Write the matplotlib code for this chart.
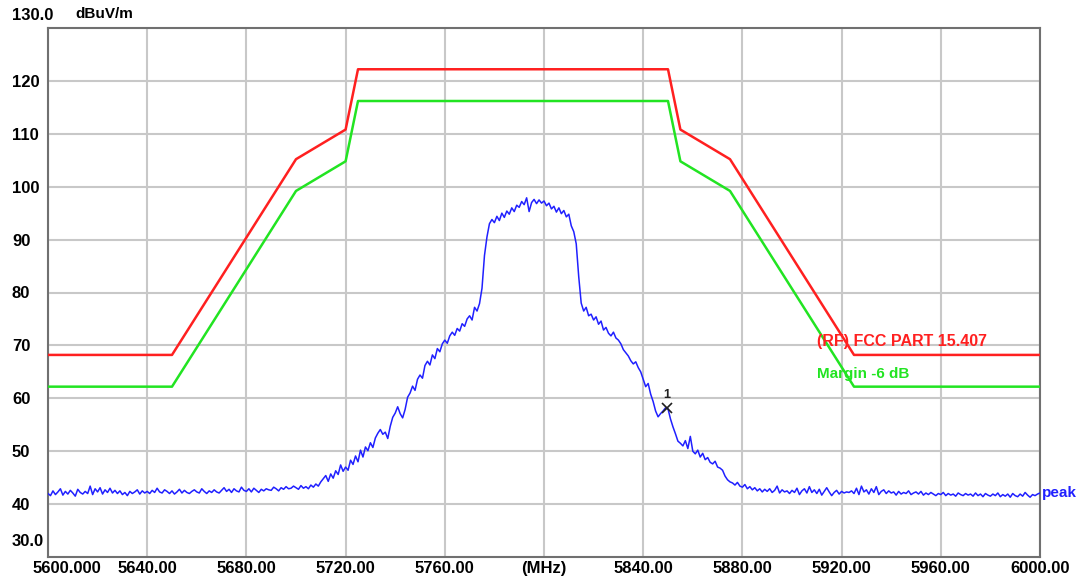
import numpy as np
import matplotlib
matplotlib.use("Agg")
import matplotlib.pyplot as plt
import matplotlib.transforms as mtransforms

plt.rcParams['font.family'] = ['Liberation Sans', 'DejaVu Sans']

# FCC part 15.407 limit (red) and the -6 dB margin (green)
limit_freq = [5600, 5650, 5700, 5720, 5725, 5850, 5855, 5875, 5925, 6000]
limit_level = [68.2, 68.2, 105.2, 110.8, 122.2, 122.2, 110.8, 105.2, 68.2, 68.2]
margin_level = [62.2, 62.2, 99.2, 104.8, 116.2, 116.2, 104.8, 99.2, 62.2, 62.2]

# peak trace, 1 MHz steps from 5600 to 6000 MHz
trace_start = 5600
trace_level = [
    42.0, 41.6, 42.5, 41.8, 42.3, 42.9, 41.7, 42.4, 41.9, 42.6,
    42.1, 41.5, 42.8, 42.2, 41.9, 42.4, 42.0, 43.4, 41.8, 42.9,
    42.3, 43.1, 41.9, 42.7, 42.2, 43.0, 42.1, 42.6, 42.0, 42.5,
    41.8, 42.2, 41.6, 42.4, 42.0, 42.3, 42.7, 41.9, 42.5, 42.1,
    42.4, 42.0, 42.6, 42.2, 43.0, 42.3, 42.1, 42.7, 42.4, 42.0,
    42.5, 41.9, 42.3, 42.8, 42.1, 42.6, 42.2, 42.0, 42.4, 42.7,
    42.3, 42.1, 42.9, 42.4, 42.0, 42.5, 42.2, 42.7, 42.3, 42.1,
    42.6, 43.1, 42.4, 42.8, 42.2, 42.9, 42.5, 42.3, 43.2, 42.6,
    42.4, 42.9, 42.3, 43.0, 42.6, 42.2, 42.8, 42.5, 42.9, 42.7,
    42.6, 43.2, 42.9, 42.5, 43.1, 42.8, 43.3, 42.9, 43.0, 43.4,
    43.1, 42.8, 43.5, 43.0, 43.3, 42.9, 43.6, 43.2, 43.8, 43.4,
    44.2, 44.8, 45.4, 44.3, 45.7, 44.9, 46.3, 45.6, 47.4, 46.2,
    47.0, 46.4, 48.3, 47.5, 49.1, 48.0, 50.2, 48.9, 50.8, 50.1,
    51.6, 50.7, 52.5, 53.4, 54.1, 53.2, 53.6, 52.4, 54.7, 56.4,
    57.2, 58.4, 57.1, 56.3, 57.9, 60.2, 61.0, 62.3, 61.5, 63.6,
    64.4, 63.8, 66.2, 67.0, 66.3, 68.2, 67.5, 69.4, 68.8, 70.3,
    71.0, 70.4, 71.8, 72.5, 71.9, 73.2, 72.7, 74.1, 73.6, 75.0,
    75.6, 74.8, 77.2, 76.5, 77.9, 80.8, 87.0, 90.5, 93.0, 93.8,
    93.2, 94.4, 93.6, 95.0, 94.2, 95.4, 94.8, 96.0, 95.3, 96.5,
    96.1, 97.2, 96.6, 97.9, 95.3, 97.0, 97.6, 96.8, 97.5, 96.9,
    97.3, 96.4, 96.9, 95.8, 96.3, 95.2, 96.0, 94.9, 95.5, 94.3,
    94.8, 92.6, 91.5, 89.2, 83.0, 78.0, 76.5, 77.2, 75.6, 75.9,
    74.8, 75.4, 74.0, 74.6, 72.9, 73.4, 72.3, 71.8, 72.5, 71.4,
    71.0, 70.3, 69.2, 68.6, 68.0, 67.1, 66.5, 66.9, 65.8, 65.0,
    63.6, 62.2, 62.8, 60.8, 59.4, 57.6, 56.5, 57.1, 57.6, 58.2,
    58.0, 56.1, 54.6, 53.3, 51.9, 51.5, 51.0, 52.0, 50.5, 52.8,
    50.0, 49.5, 50.2, 48.9, 49.6, 48.4, 48.8, 47.9, 47.6, 48.1,
    47.0, 46.8, 46.4, 45.3, 44.6, 44.2, 44.0, 43.6, 44.1, 43.4,
    43.2, 43.7, 42.9, 43.3, 42.7, 43.1, 42.5, 42.9, 42.3, 42.8,
    42.4, 42.9, 42.2, 42.6, 43.4, 42.1, 42.7, 42.3, 42.5, 42.0,
    42.6, 42.2, 43.0, 41.8, 42.5, 42.9, 42.1, 43.3, 42.2, 42.7,
    42.0, 42.8, 41.7, 42.4, 43.1, 42.3, 41.6, 42.2, 42.6, 41.9,
    42.4, 42.1, 42.3, 42.2, 42.5, 42.0, 43.0, 41.8, 43.4, 42.3,
    42.7, 41.9, 42.9, 42.2, 43.3, 41.8, 42.4, 42.7, 42.0, 42.5,
    42.1, 42.3, 41.7, 42.4, 41.9, 42.2, 42.0, 42.5, 41.8, 42.1,
    42.3, 41.9, 42.4, 41.7, 42.1, 41.8, 42.2, 41.9, 41.6, 42.0,
    41.8, 42.2, 41.6, 42.0, 41.7, 41.9, 41.5, 42.1, 41.8, 41.6,
    42.0, 41.7, 41.9, 41.5, 42.1, 41.6, 41.9, 41.4, 42.0, 41.7,
    41.5, 41.9, 41.6, 42.1, 41.4, 41.8, 41.5, 41.9, 41.3, 42.0,
    41.6, 41.4, 41.9, 41.5, 42.2, 41.7, 41.3, 41.8, 41.6, 41.9,
    42.1,
]
trace_freq = trace_start + np.arange(len(trace_level))

marker_freq = 5849.6
marker_level = 58.2

x_ticks = [5600, 5640, 5680, 5720, 5760, 5800, 5840, 5880, 5920, 5960, 6000]
x_labels = ["5600.000", "5640.00", "5680.00", "5720.00", "5760.00", "(MHz)",
            "5840.00", "5880.00", "5920.00", "5960.00", "6000.00"]
y_ticks = [40, 50, 60, 70, 80, 90, 100, 110, 120]

fig = plt.figure(figsize=(10.78, 5.77), dpi=100)
ax = fig.add_axes([48/1078, 20/577, 992/1078, 529/577])

ax.set_xlim(5600, 6000)
ax.set_ylim(30, 130)

# grid
ax.set_xticks(x_ticks)
ax.set_yticks(y_ticks)
ax.grid(True, color="#c8c8c8", lw=1.5)
ax.set_axisbelow(True)
for s in ax.spines.values():
    s.set_color("#707070")
    s.set_linewidth(1.5)

ax.tick_params(length=0)
ax.set_xticklabels(x_labels, fontsize=12, fontweight="bold")
ax.tick_params(axis="x", pad=3)
ax.set_yticklabels([str(v) for v in y_ticks], fontsize=12, fontweight="bold",
                   ha="left")
ax.tick_params(axis="y", pad=26)
# first x label sits shifted right like the original
lbl0 = ax.get_xticklabels()[0]
lbl0.set_transform(lbl0.get_transform() +
                   mtransforms.ScaledTranslation(19/100, 0, fig.dpi_scale_trans))

# end labels of y axis
fig.text(12/1078, 1 - 15/577, "130.0", fontsize=12, fontweight="bold", va="center")
fig.text(75/1078, 1 - 14/577, "dBuV/m", fontsize=11, fontweight="bold", va="center")
fig.text(12/1078, 1 - 541/577, "30.0", fontsize=12, fontweight="bold", va="center")

# limit lines
ax.plot(limit_freq, limit_level, color="#ff2020", lw=1.8, zorder=3)
ax.plot(limit_freq, margin_level, color="#22e422", lw=1.8, zorder=3)

# trace
ax.plot(trace_freq, trace_level, color="#2020ff", lw=1.1, zorder=4)

# marker
ax.plot(marker_freq, marker_level, marker="x", color="#202020", ms=7, mew=1.2, zorder=5)
ax.text(marker_freq, marker_level + 1.3, "1", fontsize=9, fontweight="bold",
        ha="center", va="bottom", color="#202020", zorder=5)

ax.text(5910, 70.8, "(RF) FCC PART 15.407", color="#ff2020", fontsize=11.5,
        fontweight="bold", va="center", ha="left")
ax.text(5910, 64.6, "Margin -6 dB", color="#22e422", fontsize=11,
        fontweight="bold", va="center", ha="left")
ax.text(6000.8, 42.1, "peak", color="#2020ff", fontsize=11, fontweight="bold",
        va="center", ha="left", clip_on=False)

fig.savefig("out.png", dpi=100)
